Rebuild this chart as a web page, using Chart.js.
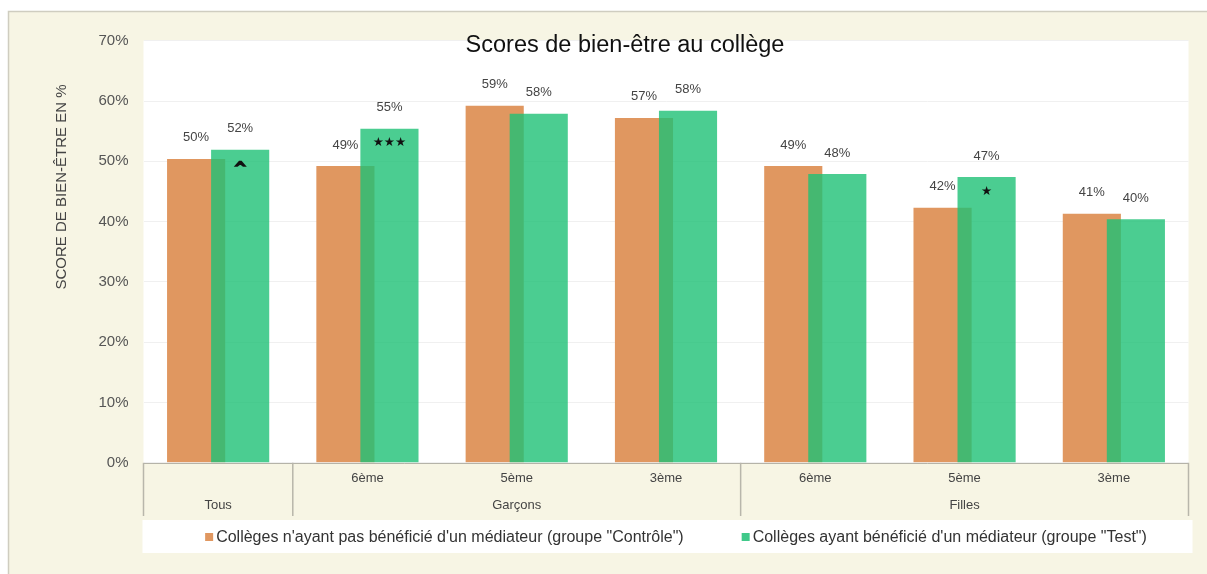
<!DOCTYPE html>
<html><head><meta charset="utf-8">
<script src="https://cdn.jsdelivr.net/npm/chart.js@4"></script>
<style>html,body{margin:0;padding:0;background:#fff;overflow:hidden}canvas{display:block}</style>
</head><body>
<canvas id="c" width="1207" height="574"></canvas>
<script>
const subLabels = ['', '6ème', '5ème', '3ème', '6ème', '5ème', '3ème'];
const groupLabels = ['Tous', 'Garçons', 'Filles'];
const groupSpans = [1, 3, 3];
const controlValues = [50.4, 49.2, 59.2, 57.2, 49.2, 42.3, 41.3];
const testValues = [51.9, 55.4, 57.9, 58.4, 47.9, 47.4, 40.4];
const testMarkers = ['^', '★★★', '', '', '', '★', ''];
const seriesNames = ['Collèges n\'ayant pas bénéficié d\'un médiateur (groupe "Contrôle")',
                     'Collèges ayant bénéficié d\'un médiateur (groupe "Test")'];
const yTicks = [0, 10, 20, 30, 40, 50, 60, 70];
const chartTitle = 'Scores de bien-être au collège';
const yTitle = 'SCORE DE BIEN-ÊTRE EN %';

const FONT = '"Liberation Sans", Arial, sans-serif';
const ORANGE = '#e09760';
const GREEN = 'rgba(30,192,118,0.8)';
const CREAM = '#f7f5e4';

const catLabels = [];
{ let k = 0; groupSpans.forEach((n, g) => { for (let j = 0; j < n; j++, k++) catLabels.push(groupLabels[g] + ' ' + subLabels[k]); }); }

let lateDraw = false;
const decor = {
  id: 'decor',
  beforeDraw(chart) {
    const ctx = chart.ctx, a = chart.chartArea;
    ctx.save();
    ctx.fillStyle = '#fff'; ctx.fillRect(0, 0, chart.width, chart.height);
    ctx.fillStyle = CREAM; ctx.fillRect(8, 11, chart.width - 8, chart.height - 11);
    ctx.strokeStyle = '#cfcdc0'; ctx.lineWidth = 1.5;
    ctx.beginPath(); ctx.moveTo(8.5, chart.height); ctx.lineTo(8.5, 11.5); ctx.lineTo(chart.width, 11.5); ctx.stroke();
    ctx.fillStyle = '#fff'; ctx.fillRect(a.left, a.top, a.right - a.left, a.bottom - a.top);
    ctx.fillRect(a.left - 1, 520, a.right - a.left + 5, 33);
    ctx.restore();
  },
  beforeDatasetDraw(chart, args) {
    if (args.index === 1 && !lateDraw) return false;
  },
  afterDatasetsDraw(chart) {
    // draw the "Test" series on top of the "Contrôle" series so it overlaps it
    lateDraw = true;
    chart.getDatasetMeta(1).controller.draw();
    lateDraw = false;

    const ctx = chart.ctx, a = chart.chartArea, xs = chart.scales.x;
    ctx.save();
    // value labels
    ctx.font = '13px ' + FONT; ctx.fillStyle = '#444'; ctx.textAlign = 'center'; ctx.textBaseline = 'middle';
    chart.data.datasets.forEach((ds, di) => {
      chart.getDatasetMeta(di).data.forEach((bar, i) => {
        ctx.fillText(Math.round(ds.data[i]) + '%', bar.x, bar.y - 21);
      });
    });
    // significance markers
    ctx.fillStyle = '#111'; ctx.strokeStyle = '#111';
    chart.getDatasetMeta(1).data.forEach((bar, i) => {
      const m = testMarkers[i];
      if (!m) return;
      if (m === '^') {
        ctx.font = 'bold 15px "DejaVu Sans"'; ctx.textBaseline = 'alphabetic'; ctx.lineWidth = 1.6; ctx.lineJoin = 'miter';
        ctx.fillText(m, bar.x, bar.y + 23); ctx.strokeText(m, bar.x, bar.y + 23);
      } else { ctx.font = '12.5px "DejaVu Sans"'; ctx.textBaseline = 'middle'; ctx.fillText(m, bar.x, bar.y + 14.5); }
    });
    // x-axis box
    const n = catLabels.length, cw = (a.right - a.left) / n;
    ctx.strokeStyle = '#b5b3a8'; ctx.lineWidth = 1;
    ctx.beginPath(); ctx.moveTo(a.left, Math.round(a.bottom) + 0.5); ctx.lineTo(a.right, Math.round(a.bottom) + 0.5); ctx.stroke();
    let k = 0;
    const bounds = [0];
    groupSpans.forEach(s => { k += s; bounds.push(k); });
    ctx.strokeStyle = '#b8b6ab'; ctx.lineWidth = 1.5;
    bounds.forEach(b => {
      const x = a.left + b * cw;
      ctx.beginPath(); ctx.moveTo(x, a.bottom); ctx.lineTo(x, 516); ctx.stroke();
    });
    ctx.font = '13px ' + FONT; ctx.fillStyle = '#444'; ctx.textBaseline = 'middle';
    subLabels.forEach((s, i) => { if (s) ctx.fillText(s, xs.getPixelForValue(i), 478); });
    groupLabels.forEach((g, gi) => {
      const x = a.left + (bounds[gi] + bounds[gi + 1]) / 2 * cw;
      ctx.fillText(g, x, 505);
    });
    // title
    ctx.font = '23.5px ' + FONT; ctx.fillStyle = '#111';
    ctx.fillText(chartTitle, 625, 46);
    // y title
    ctx.save(); ctx.translate(62, 187); ctx.rotate(-Math.PI / 2);
    ctx.font = '15px ' + FONT; ctx.fillStyle = '#444'; ctx.fillText(yTitle, 0, 0); ctx.restore();
    // legend
    ctx.font = '16px ' + FONT; ctx.textAlign = 'left'; ctx.textBaseline = 'middle';
    const colors = [ORANGE, 'rgba(30,192,118,0.85)'];
    const box = 8, gapBox = 3, gap = 58;
    const widths = seriesNames.map(t => box + gapBox + ctx.measureText(t).width);
    let x = 676 - (widths[0] + gap + widths[1]) / 2;
    seriesNames.forEach((t, i) => {
      ctx.fillStyle = colors[i]; ctx.fillRect(x, 533, box, box);
      ctx.fillStyle = '#333'; ctx.fillText(t, x + box + gapBox, 538);
      x += widths[i] + gap;
    });
    ctx.restore();
  }
};

new Chart(document.getElementById('c'), {
  type: 'bar',
  data: {
    labels: catLabels,
    datasets: [
      { label: seriesNames[0], data: controlValues, backgroundColor: ORANGE, borderWidth: 0 },
      { label: seriesNames[1], data: testValues, backgroundColor: GREEN, borderWidth: 0 }
    ]
  },
  options: {
    responsive: false, animation: false, devicePixelRatio: 1,
    layout: { padding: { left: 0, right: 18.5, top: 40.7, bottom: 0 } },
    datasets: { bar: { categoryPercentage: 0.59, barPercentage: 1.32 } },
    plugins: { legend: { display: false }, tooltip: { enabled: false }, title: { display: false } },
    scales: {
      x: {
        ticks: { display: false }, grid: { display: false }, border: { display: false },
        afterFit(s) { s.height = 574 - 462.8; }
      },
      y: {
        min: 0, max: 70,
        afterBuildTicks(s) { s.ticks = yTicks.map(v => ({ value: v })); },
        ticks: { callback: v => v + '%', font: { family: FONT, size: 15 }, color: '#555', padding: 15 },
        grid: { color: '#f0f0f0', drawTicks: false },
        border: { display: false },
        afterFit(s) { s.width = 143.5; }
      }
    }
  },
  plugins: [decor]
});
</script>
</body></html>
